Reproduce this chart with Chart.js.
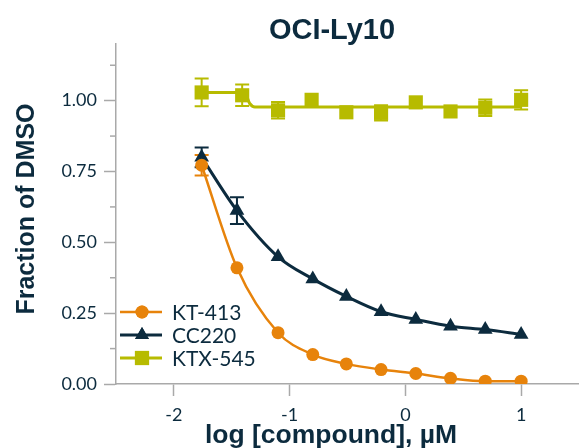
<!DOCTYPE html>
<html>
<head>
<meta charset="utf-8">
<script src="https://cdn.jsdelivr.net/npm/chart.js@4.4.1/dist/chart.umd.min.js"></script>
<style>
  html, body { margin: 0; padding: 0; background: #fff; }
</style>
</head>
<body>
<canvas id="doseChart" width="579" height="448"></canvas>
<script>
// --- Data ---
const logDose    = [-1.76, -1.455, -1.10, -0.80, -0.51, -0.21, 0.09, 0.39, 0.69, 1.0];
const ktxLogDose = [-1.76, -1.41, -1.10, -0.81, -0.51, -0.21, 0.09, 0.39, 0.69, 1.0];

const kt413    = [0.772, 0.410, 0.181, 0.104, 0.071, 0.051, 0.037, 0.020, 0.010, 0.010];
const kt413Err = [0.036, 0, 0, 0, 0, 0, 0, 0, 0, 0];

const cc220    = [0.800, 0.612, 0.449, 0.371, 0.309, 0.255, 0.228, 0.204, 0.192, 0.175];
const cc220Err = [0.035, 0.047, 0, 0, 0, 0, 0, 0, 0, 0];

const ktx545    = [1.029, 1.019, 0.966, 1.003, 0.959, 0.957, 0.994, 0.962, 0.975, 1.003];
const ktx545Err = [0.049, 0.038, 0.029, 0, 0, 0.027, 0, 0, 0.029, 0.034];

// fitted curve for KTX-545 as it appears in the figure
const ktxFitX = [-1.76, -1.39, -1.345, -1.30, 1.0];
const ktxFitY = [1.029, 1.029, 0.990, 0.978, 0.978];

const xTicks = [-2, -1, 0, 1];
const yTicks = [0, 0.25, 0.5, 0.75, 1.0];
const yMinorTicks = [0.125, 0.375, 0.625, 0.875, 1.125];

const seriesNames = ['KT-413', 'CC220', 'KTX-545'];

// --- Styles ---
const NAVY = '#0c2b3e';
const ORANGE = '#e7830b';
const LIME = '#b7bb00';
const AXIS = '#a9a9a9';

function toPoints(xs, ys) {
    return xs.map((x, i) => ({ x: x, y: ys[i] }));
}

// --- Error bars ---
const errorBars = {
    id: 'errorBars',
    beforeDatasetsDraw(chart) {
        const { ctx, scales: { x, y } } = chart;
        chart.data.datasets.forEach((ds) => {
            if (!ds.errors) return;
            ctx.save();
            ctx.strokeStyle = ds.borderColor;
            ctx.lineWidth = 2;
            ds.data.forEach((pt, i) => {
                const e = ds.errors[i];
                if (!e) return;
                const px = x.getPixelForValue(pt.x);
                const top = y.getPixelForValue(pt.y + e);
                const bot = y.getPixelForValue(pt.y - e);
                ctx.beginPath();
                ctx.moveTo(px, top); ctx.lineTo(px, bot);
                ctx.moveTo(px - 7, top); ctx.lineTo(px + 7, top);
                ctx.moveTo(px - 7, bot); ctx.lineTo(px + 7, bot);
                ctx.stroke();
            });
            ctx.restore();
        });
    }
};

// --- Titles, minor ticks and legend ---
const decorations = {
    id: 'decorations',
    afterDraw(chart) {
        const { ctx, chartArea, scales: { y } } = chart;
        ctx.save();

        // minor ticks on y
        ctx.strokeStyle = AXIS;
        ctx.lineWidth = 1.5;
        yMinorTicks.forEach((v) => {
            const py = y.getPixelForValue(v);
            ctx.beginPath();
            ctx.moveTo(chartArea.left - 6, py);
            ctx.lineTo(chartArea.left, py);
            ctx.stroke();
        });

        // chart title
        ctx.fillStyle = NAVY;
        ctx.textAlign = 'center';
        ctx.textBaseline = 'alphabetic';
        ctx.font = 'bold 29px "Liberation Sans", Arial, sans-serif';
        ctx.fillText('OCI-Ly10', 332, 38.5);

        // x axis title
        ctx.font = 'bold 26.5px "Liberation Sans", Arial, sans-serif';
        ctx.fillText('log [compound], \u00b5M', 331, 443);

        // y axis title
        ctx.font = 'bold 25px "Liberation Sans", Arial, sans-serif';
        ctx.save();
        ctx.translate(34, 209);
        ctx.rotate(-Math.PI / 2);
        ctx.fillText('Fraction of DMSO', 0, 0);
        ctx.restore();

        // legend
        const rows = [
            { color: ORANGE, style: 'circle', radius: 6.5, lw: 2.5 },
            { color: NAVY, style: 'triangle', radius: 8, lw: 3 },
            { color: LIME, style: 'rect', radius: 10, lw: 3 }
        ];
        const rowY = [312, 335, 358];
        ctx.font = '21px Lato, sans-serif';
        ctx.textAlign = 'left';
        ctx.textBaseline = 'middle';
        rows.forEach((r, i) => {
            ctx.strokeStyle = r.color;
            ctx.lineWidth = r.lw;
            ctx.beginPath();
            ctx.moveTo(120, rowY[i]);
            ctx.lineTo(162, rowY[i]);
            ctx.stroke();
            ctx.fillStyle = r.color;
            Chart.helpers.drawPoint(ctx, {
                pointStyle: r.style, radius: r.radius, rotation: 0, borderWidth: 0
            }, 142, rowY[i]);
            ctx.fill();
            ctx.fillStyle = NAVY;
            ctx.fillText(seriesNames[i], 172, rowY[i] + 1);
        });

        ctx.restore();
    }
};

new Chart(document.getElementById('doseChart'), {
    type: 'scatter',
    data: {
        datasets: [{
            label: seriesNames[0],
            data: toPoints(logDose, kt413),
            errors: kt413Err,
            showLine: true,
            cubicInterpolationMode: 'monotone',
            borderColor: ORANGE,
            borderWidth: 2.5,
            backgroundColor: ORANGE,
            pointStyle: 'circle',
            pointRadius: 6.5,
            pointBorderWidth: 0
        }, {
            label: seriesNames[1],
            data: toPoints(logDose, cc220),
            errors: cc220Err,
            showLine: true,
            cubicInterpolationMode: 'monotone',
            borderColor: NAVY,
            borderWidth: 3,
            backgroundColor: NAVY,
            pointStyle: 'triangle',
            pointRadius: 8.5,
            pointBorderWidth: 0
        }, {
            label: seriesNames[2],
            data: toPoints(ktxLogDose, ktx545),
            errors: ktx545Err,
            showLine: false,
            borderColor: LIME,
            backgroundColor: LIME,
            pointStyle: 'rect',
            pointRadius: 10,
            pointBorderWidth: 0
        }, {
            label: seriesNames[2] + ' fit',
            data: toPoints(ktxFitX, ktxFitY),
            showLine: true,
            cubicInterpolationMode: 'monotone',
            borderColor: LIME,
            borderWidth: 3,
            pointRadius: 0
        }]
    },
    options: {
        responsive: false,
        animation: false,
        layout: { autoPadding: false, padding: { top: 44, right: 0, left: 0, bottom: 0 } },
        plugins: {
            legend: { display: false },
            tooltip: { enabled: false },
            title: { display: false }
        },
        scales: {
            x: {
                type: 'linear',
                min: -2.5,
                max: 1.5,
                afterBuildTicks: (scale) => { scale.ticks = xTicks.map(v => ({ value: v })); },
                afterFit: (scale) => {
                    scale.height = 64;
                    scale.paddingLeft = 0;
                    scale.paddingRight = 0;
                },
                border: { display: true, color: AXIS, width: 1.5 },
                grid: { drawOnChartArea: false, drawTicks: true, tickLength: 12, color: AXIS, tickWidth: 1.5 },
                ticks: {
                    padding: 8,
                    color: NAVY,
                    font: { family: 'Lato', size: 18 },
                    callback: (v) => String(v)
                }
            },
            y: {
                type: 'linear',
                min: 0,
                max: 1.2,
                afterBuildTicks: (scale) => { scale.ticks = yTicks.map(v => ({ value: v })); },
                afterFit: (scale) => { scale.width = 116; },
                border: { display: true, color: AXIS, width: 1.5 },
                grid: { drawOnChartArea: false, drawTicks: true, tickLength: 12, color: AXIS, tickWidth: 1.5 },
                ticks: {
                    padding: 7,
                    color: NAVY,
                    font: { family: 'Lato', size: 18 },
                    callback: (v) => Number(v).toFixed(2)
                }
            }
        }
    },
    plugins: [errorBars, decorations]
});
</script>
</body>
</html>
